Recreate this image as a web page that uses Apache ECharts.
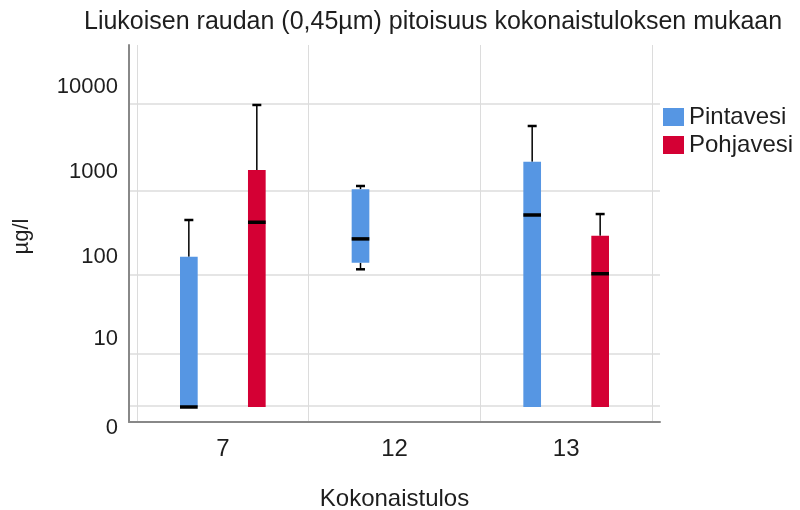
<!DOCTYPE html>
<html><head><meta charset="utf-8">
<script src="https://cdn.jsdelivr.net/npm/echarts@6/dist/echarts.min.js"></script>
<style>html,body{margin:0;padding:0;background:#fff}#c{width:800px;height:510px}</style>
</head><body><div id="c"></div>
<script>
// ---- data (µg/l) ----
const categories = ['7', '12', '13'];
const seriesNames = ['Pintavesi', 'Pohjavesi'];
// each entry: [min, Q1, median, Q3, max]; null = no data for that category
const pintavesi = [
  [0.5, 0.5, 0.5, 86, 234],
  [61, 73, 140, 538, 588],
  [0.5, 0.5, 268, 1135, 2980]
];
const pohjavesi = [
  [0.5, 0.5, 220, 907, 5260],
  null,
  [0.5, 0.5, 54, 153, 275]
];
const tickLabels = [0, 10, 100, 1000, 10000];
const gridValues = [0.54, 5.4, 53, 520, 5400];

// ---- scale transform (log10(1+x)) ----
const t = v => Math.log10(1 + v);
const yMax = 4.425;
const colors = ['#5696e3', '#d40034'];
const FONT = 'Liberation Sans';

function toData(arr) {
  const out = [];
  arr.forEach((d, i) => { if (d) out.push([i].concat(d.map(t))); });
  return out;
}

function makeRender(sign, color) {
  return function (params, api) {
    const cat = api.value(0);
    const v = [api.value(1), api.value(2), api.value(3), api.value(4), api.value(5)];
    const band = api.size([1, 0])[0];
    const off = sign * band * 0.198;
    const bw = band * 0.103;
    const cx = api.coord([cat, 0])[0] + off;
    const y = v.map(val => api.coord([cat, val])[1]);
    const yMin = y[0], yQ1 = y[1], yMed = y[2], yQ3 = y[3], yTop = y[4];
    const ch = [];
    if (yTop < yQ3 - 0.5) {
      ch.push({type: 'line', shape: {x1: cx, y1: yQ3, x2: cx, y2: yTop}, style: {stroke: '#000', lineWidth: 1.5}});
      ch.push({type: 'line', shape: {x1: cx - 4.5, y1: yTop, x2: cx + 4.5, y2: yTop}, style: {stroke: '#000', lineWidth: 2.5}});
    }
    if (yMin > yQ1 + 0.5) {
      ch.push({type: 'line', shape: {x1: cx, y1: yQ1, x2: cx, y2: yMin}, style: {stroke: '#000', lineWidth: 1.5}});
      ch.push({type: 'line', shape: {x1: cx - 4.5, y1: yMin, x2: cx + 4.5, y2: yMin}, style: {stroke: '#000', lineWidth: 2.5}});
    }
    ch.push({type: 'rect', shape: {x: cx - bw / 2, y: yQ3, width: bw, height: yQ1 - yQ3}, style: {fill: color}});
    ch.push({type: 'line', shape: {x1: cx - bw / 2, y1: yMed, x2: cx + bw / 2, y2: yMed}, style: {stroke: '#000', lineWidth: 3.5}});
    return {type: 'group', children: ch};
  };
}

const chart = echarts.init(document.getElementById('c'), null, {renderer: 'canvas'});
chart.setOption({
  animation: false,
  backgroundColor: '#fff',
  textStyle: {fontFamily: FONT},
  title: {
    text: 'Liukoisen raudan (0,45µm) pitoisuus kokonaistuloksen mukaan',
    left: 79, top: 5,
    textStyle: {fontSize: 25, fontWeight: 'normal', color: '#1e1e1e', fontFamily: FONT}
  },
  legend: {
    orient: 'vertical', left: 658, top: 100,
    itemWidth: 21, itemHeight: 18, itemGap: 4, icon: 'rect',
    textStyle: {fontSize: 24, color: '#1e1e1e', fontFamily: FONT},
    data: seriesNames
  },
  grid: [
    {left: 137, right: 148, top: 45, bottom: 88, containLabel: false, outerBoundsMode: 'none'},
    {left: 129, right: 140, top: 45, bottom: 88, containLabel: false, outerBoundsMode: 'none'}
  ],
  xAxis: [
    {
      gridIndex: 0, type: 'category', data: categories,
      axisLine: {show: false}, axisTick: {show: false},
      axisLabel: {fontSize: 24, margin: 15, color: '#1e1e1e'},
      splitLine: {show: true, lineStyle: {color: '#dcdcdc', width: 1}},
      name: 'Kokonaistulos', nameLocation: 'middle', nameGap: 65,
      nameTextStyle: {fontSize: 24, color: '#1e1e1e'}
    },
    {
      gridIndex: 1, type: 'value', min: 0, max: 1,
      axisLine: {show: true, lineStyle: {color: '#888', width: 2}},
      axisTick: {show: false}, axisLabel: {show: false}, splitLine: {show: false}
    }
  ],
  yAxis: [
    {gridIndex: 0, type: 'value', min: 0, max: yMax, show: false},
    {
      gridIndex: 1, type: 'value', min: 0, max: yMax,
      axisLine: {show: true, lineStyle: {color: '#888', width: 2}},
      axisTick: {show: false, customValues: gridValues.map(t)},
      axisLabel: {
        customValues: tickLabels.map(t),
        formatter: function (val) {
          for (const l of tickLabels) { if (Math.abs(t(l) - val) < 1e-6) return String(l); }
          return '';
        },
        fontSize: 22, margin: 11, color: '#1e1e1e',
        verticalAlign: 'top', lineHeight: 12
      },
      splitLine: {show: true, lineStyle: {color: '#dcdcdc', width: 1.5}},
      name: 'µg/l', nameLocation: 'middle', nameGap: 96, nameRotate: 90,
      nameTextStyle: {fontSize: 22, color: '#1e1e1e', padding: [0, 6, 0, 0]}
    }
  ],
  series: [
    {
      name: seriesNames[0], type: 'custom', xAxisIndex: 0, yAxisIndex: 0,
      itemStyle: {color: colors[0]},
      renderItem: makeRender(-1, colors[0]),
      encode: {x: 0, y: [1, 2, 3, 4, 5]},
      data: toData(pintavesi)
    },
    {
      name: seriesNames[1], type: 'custom', xAxisIndex: 0, yAxisIndex: 0,
      itemStyle: {color: colors[1]},
      renderItem: makeRender(1, colors[1]),
      encode: {x: 0, y: [1, 2, 3, 4, 5]},
      data: toData(pohjavesi)
    }
  ]
});
</script>
</body></html>
